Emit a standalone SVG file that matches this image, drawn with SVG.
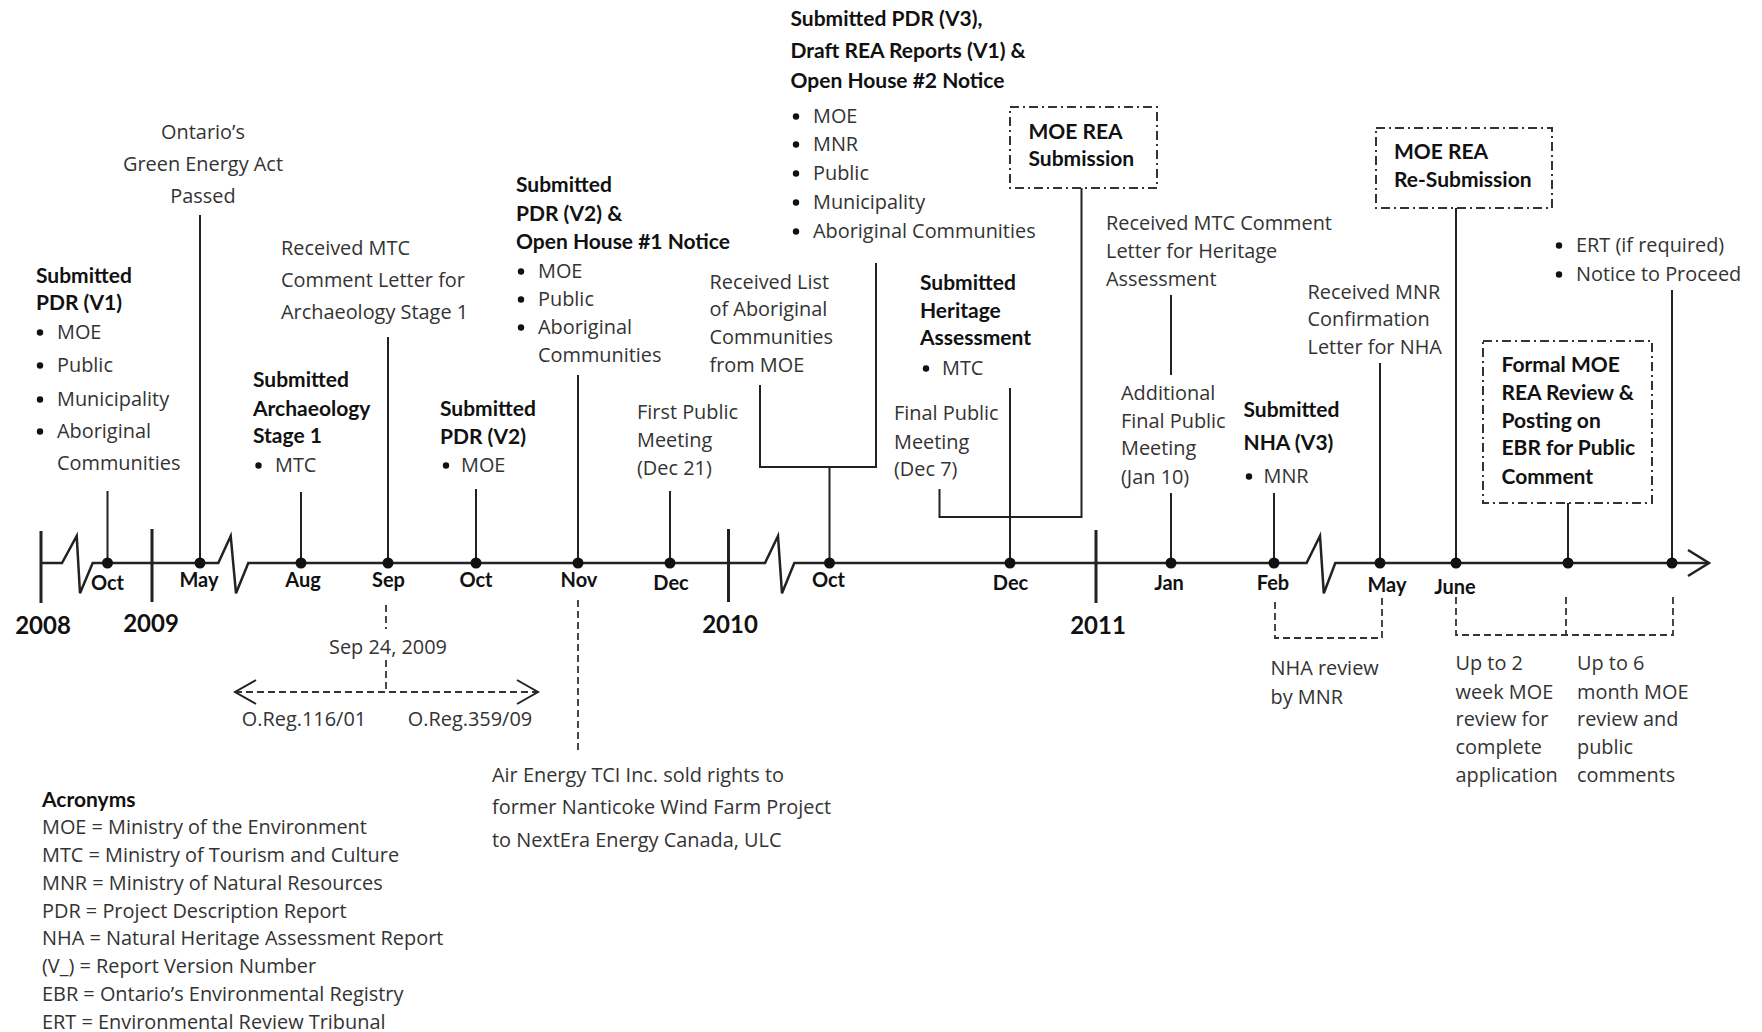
<svg xmlns="http://www.w3.org/2000/svg" width="1762" height="1032" viewBox="0 0 1762 1032">
<style>
.t{font-family:"Open Sans","Liberation Sans",sans-serif;font-size:19.9px;fill:#333}
.b{font-family:Lato,"Liberation Sans",sans-serif;font-weight:700;font-size:21px;fill:#111}
.m{font-family:Lato,"Liberation Sans",sans-serif;font-weight:700;font-size:20px;fill:#111;text-anchor:middle}
.y{font-family:Lato,"Liberation Sans",sans-serif;font-weight:700;font-size:24px;fill:#111;text-anchor:middle}
.c{text-anchor:middle}
.ln{fill:none;stroke:#222;stroke-width:2}
.ax{fill:none;stroke:#222;stroke-width:2.5;stroke-linejoin:miter}
.tk{fill:none;stroke:#222;stroke-width:3}
.ds{fill:none;stroke:#333;stroke-width:1.8;stroke-dasharray:7 4}
.dd{fill:none;stroke:#333;stroke-width:2;stroke-dasharray:9 4 2 4}
.dot{fill:#111}
</style>
<rect width="1762" height="1032" fill="#fff"/>

<g id="connectors">
  <path class="ax" d="M41 563 H62 L76.7 536 L80 593.3 L92.7 563 H218.3 L230.7 536 L236 593.3 L248.3 563 H765 L778 536 L782 593.3 L794.3 563 H1306.6 L1320 536 L1323.8 593.3 L1335.3 563 H1709"/>
  <path class="ax" d="M1688 550 L1709 563 L1688 576"/>
  <path class="tk" d="M41 531 V603 M152 529 V602 M728.5 529 V602 M1096 530 V603"/>
  <path class="ln" d="M107.5 491 V563 M200 215 V563 M301 492 V563 M388 337 V563 M476 489 V563 M578 375 V563 M670 491 V563"/>
  <path class="ln" d="M760 385 V467 H876 V263 M829.5 467 V563"/>
  <path class="ln" d="M939.5 489 V517 H1081.5 V188 M1010 388 V563"/>
  <path class="ln" d="M1171 295 V375 M1171 493 V563 M1274 493 V563 M1380 363 V563 M1456 208 V563 M1568 503 V563 M1672 290 V563"/>
  <g class="dot">
    <circle cx="107.5" cy="563" r="5.5"/><circle cx="200" cy="563" r="5.5"/><circle cx="301" cy="563" r="5.5"/>
    <circle cx="388" cy="563" r="5.5"/><circle cx="476" cy="563" r="5.5"/><circle cx="578" cy="563" r="5.5"/>
    <circle cx="670" cy="563" r="5.5"/><circle cx="829.5" cy="563" r="5.5"/><circle cx="1010" cy="563" r="5.5"/>
    <circle cx="1171" cy="563" r="5.5"/><circle cx="1274" cy="563" r="5.5"/><circle cx="1380" cy="563" r="5.5"/>
    <circle cx="1456" cy="563" r="5.5"/><circle cx="1568" cy="563" r="5.5"/><circle cx="1672" cy="563" r="5.5"/>
  </g>
  <path class="ds" d="M386 605 V629 M386 660 V692 M235 692 H538 M578 600 V750"/>
  <path class="ln" stroke-width="1.8" d="M256 680 L235 692 L256 704 M517 680 L538 692 L517 704"/>
  <path class="ds" d="M1275 602 V638 H1382 V597 M1456 597 V635 H1673 V597 M1566 597 V635"/>
</g>

<g id="axis-labels">
  <text class="m" x="107.5" y="590">Oct</text>
  <text class="m" x="199" y="587">May</text>
  <text class="m" x="303" y="587">Aug</text>
  <text class="m" x="388.5" y="587">Sep</text>
  <text class="m" x="476" y="587">Oct</text>
  <text class="m" x="579" y="587">Nov</text>
  <text class="m" x="671" y="590">Dec</text>
  <text class="m" x="828.5" y="587">Oct</text>
  <text class="m" x="1010.5" y="590">Dec</text>
  <text class="m" x="1169" y="590">Jan</text>
  <text class="m" x="1273" y="590">Feb</text>
  <text class="m" x="1387" y="592">May</text>
  <text class="m" x="1455" y="594">June</text>
  <text class="y" x="43" y="634">2008</text>
  <text class="y" x="151" y="632">2009</text>
  <text class="y" x="730" y="633">2010</text>
  <text class="y" x="1098" y="634">2011</text>
</g>

<g id="gea">
  <text class="t c" x="203" y="139">Ontario’s</text>
  <text class="t c" x="203" y="171">Green Energy Act</text>
  <text class="t c" x="203" y="203">Passed</text>
</g>

<g id="pdr1">
  <text class="b" x="36" y="283">Submitted</text>
  <text class="b" x="36" y="310">PDR (V1)</text>
  <circle class="dot" cx="40" cy="332.5" r="3.2"/><text class="t" x="57" y="339">MOE</text>
  <circle class="dot" cx="40" cy="365.5" r="3.2"/><text class="t" x="57" y="372">Public</text>
  <circle class="dot" cx="40" cy="399.5" r="3.2"/><text class="t" x="57" y="406">Municipality</text>
  <circle class="dot" cx="40" cy="431.5" r="3.2"/><text class="t" x="57" y="438">Aboriginal</text>
  <text class="t" x="57" y="470">Communities</text>
</g>

<g id="mtc-letter-arch">
  <text class="t" x="281" y="255">Received MTC</text>
  <text class="t" x="281" y="287">Comment Letter for</text>
  <text class="t" x="281" y="319">Archaeology Stage 1</text>
</g>

<g id="arch1">
  <text class="b" x="253" y="387">Submitted</text>
  <text class="b" x="253" y="416">Archaeology</text>
  <text class="b" x="253" y="443">Stage 1</text>
  <circle class="dot" cx="258.5" cy="465.5" r="3.2"/><text class="t" x="275" y="472">MTC</text>
</g>

<g id="pdr2">
  <text class="b" x="440" y="416">Submitted</text>
  <text class="b" x="440" y="444">PDR (V2)</text>
  <circle class="dot" cx="446" cy="465.5" r="3.2"/><text class="t" x="461" y="472">MOE</text>
</g>

<g id="pdr2-oh1">
  <text class="b" x="516" y="192">Submitted</text>
  <text class="b" x="516" y="221">PDR (V2) &amp;</text>
  <text class="b" x="516" y="249">Open House #1 Notice</text>
  <circle class="dot" cx="521" cy="271.5" r="3.2"/><text class="t" x="538" y="278">MOE</text>
  <circle class="dot" cx="521" cy="299.5" r="3.2"/><text class="t" x="538" y="306">Public</text>
  <circle class="dot" cx="521" cy="327.5" r="3.2"/><text class="t" x="538" y="334">Aboriginal</text>
  <text class="t" x="538" y="362">Communities</text>
</g>

<g id="first-pm">
  <text class="t" x="637" y="419">First Public</text>
  <text class="t" x="637" y="447">Meeting</text>
  <text class="t" x="637" y="475">(Dec 21)</text>
</g>

<g id="aboriginal-list">
  <text class="t" x="709.5" y="289">Received List</text>
  <text class="t" x="709.5" y="316">of Aboriginal</text>
  <text class="t" x="709.5" y="344">Communities</text>
  <text class="t" x="709.5" y="372">from MOE</text>
</g>

<g id="pdr3">
  <text class="b" x="790.5" y="26">Submitted PDR (V3),</text>
  <text class="b" x="790.5" y="58">Draft REA Reports (V1) &amp;</text>
  <text class="b" x="790.5" y="88">Open House #2 Notice</text>
  <circle class="dot" cx="796" cy="116.5" r="3.2"/><text class="t" x="813" y="123">MOE</text>
  <circle class="dot" cx="796" cy="144.5" r="3.2"/><text class="t" x="813" y="151">MNR</text>
  <circle class="dot" cx="796" cy="173.5" r="3.2"/><text class="t" x="813" y="180">Public</text>
  <circle class="dot" cx="796" cy="202.5" r="3.2"/><text class="t" x="813" y="209">Municipality</text>
  <circle class="dot" cx="796" cy="231.5" r="3.2"/><text class="t" x="813" y="238">Aboriginal Communities</text>
</g>

<g id="moe-rea-submission">
  <rect class="dd" x="1010" y="107" width="147" height="81"/>
  <text class="b" x="1028.5" y="139">MOE REA</text>
  <text class="b" x="1028.5" y="166">Submission</text>
</g>

<g id="heritage">
  <text class="b" x="920" y="290">Submitted</text>
  <text class="b" x="920" y="318">Heritage</text>
  <text class="b" x="920" y="345">Assessment</text>
  <circle class="dot" cx="926" cy="368.5" r="3.2"/><text class="t" x="942" y="375">MTC</text>
</g>

<g id="final-pm">
  <text class="t" x="894" y="420">Final Public</text>
  <text class="t" x="894" y="449">Meeting</text>
  <text class="t" x="894" y="476">(Dec 7)</text>
</g>

<g id="mtc-letter-heritage">
  <text class="t" x="1106" y="230">Received MTC Comment</text>
  <text class="t" x="1106" y="258">Letter for Heritage</text>
  <text class="t" x="1106" y="286">Assessment</text>
</g>

<g id="additional-pm">
  <text class="t" x="1121" y="400">Additional</text>
  <text class="t" x="1121" y="428">Final Public</text>
  <text class="t" x="1121" y="455">Meeting</text>
  <text class="t" x="1121" y="484">(Jan 10)</text>
</g>

<g id="nha3">
  <text class="b" x="1243.5" y="417">Submitted</text>
  <text class="b" x="1243.5" y="450">NHA (V3)</text>
  <circle class="dot" cx="1249" cy="476.5" r="3.2"/><text class="t" x="1263.5" y="483">MNR</text>
</g>

<g id="mnr-letter">
  <text class="t" x="1307.5" y="299">Received MNR</text>
  <text class="t" x="1307.5" y="326">Confirmation</text>
  <text class="t" x="1307.5" y="354">Letter for NHA</text>
</g>

<g id="moe-rea-resubmission">
  <rect class="dd" x="1376" y="128" width="176" height="80"/>
  <text class="b" x="1394" y="159">MOE REA</text>
  <text class="b" x="1394" y="187">Re-Submission</text>
</g>

<g id="formal-review">
  <rect class="dd" x="1483" y="341" width="169" height="162"/>
  <text class="b" x="1501.5" y="372">Formal MOE</text>
  <text class="b" x="1501.5" y="400">REA Review &amp;</text>
  <text class="b" x="1501.5" y="428">Posting on</text>
  <text class="b" x="1501.5" y="455">EBR for Public</text>
  <text class="b" x="1501.5" y="484">Comment</text>
</g>

<g id="ert">
  <circle class="dot" cx="1559" cy="245.5" r="3.2"/><text class="t" x="1576" y="252">ERT (if required)</text>
  <circle class="dot" cx="1559" cy="274.5" r="3.2"/><text class="t" x="1576" y="281">Notice to Proceed</text>
</g>

<g id="regulation">
  <text class="t c" x="388" y="654">Sep 24, 2009</text>
  <text class="t c" x="304" y="726">O.Reg.116/01</text>
  <text class="t c" x="470" y="726">O.Reg.359/09</text>
</g>

<g id="air-energy">
  <text class="t" x="492" y="782">Air Energy TCI Inc. sold rights to</text>
  <text class="t" x="492" y="814">former Nanticoke Wind Farm Project</text>
  <text class="t" x="492" y="847">to NextEra Energy Canada, ULC</text>
</g>

<g id="nha-review">
  <text class="t" x="1270.5" y="675">NHA review</text>
  <text class="t" x="1270.5" y="704">by MNR</text>
</g>

<g id="two-week">
  <text class="t" x="1455.5" y="670">Up to 2</text>
  <text class="t" x="1455.5" y="699">week MOE</text>
  <text class="t" x="1455.5" y="726">review for</text>
  <text class="t" x="1455.5" y="754">complete</text>
  <text class="t" x="1455.5" y="782">application</text>
</g>

<g id="six-month">
  <text class="t" x="1577" y="670">Up to 6</text>
  <text class="t" x="1577" y="699">month MOE</text>
  <text class="t" x="1577" y="726">review and</text>
  <text class="t" x="1577" y="754">public</text>
  <text class="t" x="1577" y="782">comments</text>
</g>

<g id="acronyms">
  <text class="b" x="42" y="807">Acronyms</text>
  <text class="t" x="42" y="834">MOE = Ministry of the Environment</text>
  <text class="t" x="42" y="862">MTC = Ministry of Tourism and Culture</text>
  <text class="t" x="42" y="890">MNR = Ministry of Natural Resources</text>
  <text class="t" x="42" y="918">PDR = Project Description Report</text>
  <text class="t" x="42" y="945">NHA = Natural Heritage Assessment Report</text>
  <text class="t" x="42" y="973">(V_) = Report Version Number</text>
  <text class="t" x="42" y="1001">EBR = Ontario’s Environmental Registry</text>
  <text class="t" x="42" y="1029">ERT = Environmental Review Tribunal</text>
</g>
</svg>
